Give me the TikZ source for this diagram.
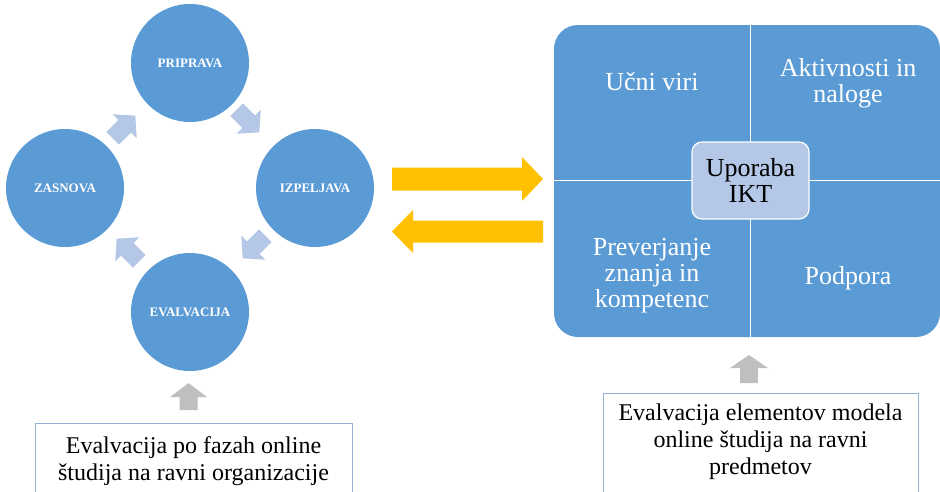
\documentclass[tikz,border=0pt]{standalone}
\usepackage{fontspec}
\setmainfont{Liberation Serif}
\usetikzlibrary{calc}

\definecolor{phaseblue}{HTML}{5B9BD5}
\definecolor{paleblue}{HTML}{B4C7E7}
\definecolor{amber}{HTML}{FFC000}
\definecolor{softgray}{HTML}{BFBFBF}
\definecolor{frameblue}{HTML}{95B3D7}

% Block arrow: #1 fill style, #2 centre, #3 direction angle,
% #4 total length, #5 shaft half-width, #6 head half-width, #7 head length
\newcommand\drawblockarrow[7]{%
  \begin{scope}[shift={#2},rotate=#3]
    \fill[#1] ({-(#4)/2},{-(#5)}) -- ({(#4)/2-(#7)},{-(#5)})
      -- ({(#4)/2-(#7)},{-(#6)}) -- ({(#4)/2},0)
      -- ({(#4)/2-(#7)},{#6}) -- ({(#4)/2-(#7)},{#5})
      -- ({-(#4)/2},{#5}) -- cycle;
  \end{scope}}

\begin{document}
\begin{tikzpicture}[x=1pt,y=-1pt,
  phase/.style={circle, fill=phaseblue, minimum size=118pt, inner sep=0pt,
    text=white, font=\fontsize{13}{15}\selectfont\bfseries},
  quad/.style={text=white, align=center, font=\fontsize{26}{26}\selectfont},
  hub/.style={fill=paleblue, draw=white, line width=1.2pt, rounded corners=10pt,
    minimum width=117pt, minimum height=77pt, inner sep=0pt, align=center,
    font=\fontsize{26}{26}\selectfont},
  notebox/.style={draw=frameblue, line width=0.8pt, fill=white, inner sep=0pt,
    anchor=north west},
  notetext/.style={align=center, font=\fontsize{24}{27}\selectfont, inner sep=0pt},
  divider/.style={white, line width=1.2pt},
]
\useasboundingbox (0,0) rectangle (940,491);

% ---- cycle of phases ----
\node[phase] (pri) at (190,63)  {PRIPRAVA};
\node[phase] (izp) at (315,188) {IZPELJAVA};
\node[phase] (eva) at (190,312) {EVALVACIJA};
\node[phase] (zas) at (65,188)  {ZASNOVA};

\coordinate (c1) at (248,121);
\coordinate (c2) at (254,247);
\coordinate (c3) at (128,250);
\coordinate (c4) at (124,127);
\drawblockarrow{paleblue}{(c1)}{-45}{32}{9}{17}{15}
\drawblockarrow{paleblue}{(c2)}{-135}{32}{9}{17}{15}
\drawblockarrow{paleblue}{(c3)}{135}{32}{9}{17}{15}
\drawblockarrow{paleblue}{(c4)}{45}{32}{9}{17}{15}

% ---- exchange arrows ----
\coordinate (yr) at (467.5,179);
\coordinate (yl) at (467.5,231.5);
\drawblockarrow{amber}{(yr)}{0}{151}{11.5}{22}{21}
\drawblockarrow{amber}{(yl)}{180}{151}{11}{21.5}{21}

% ---- model elements panel ----
\node[fill=phaseblue, rounded corners=24pt, minimum width=386pt,
  minimum height=312pt, inner sep=0pt] (panel) at (747,181) {};
\coordinate (mid) at (750.5,180.5);
\draw[divider] (panel.north -| mid) -- (panel.south -| mid);
\draw[divider] (panel.west |- mid) -- (panel.east |- mid);

\node[quad] (q1) at (652,82)  {Učni viri};
\node[quad] (q2) at (848,83)  {Aktivnosti in\\naloge};
\node[quad] (q3) at (652,276) {Preverjanje\\znanja in\\kompetenc};
\node[quad] (q4) at (848,278) {Podpora};
\node[hub] (hub) at (mid) {Uporaba\\IKT};

% ---- evaluation notes ----
\node[notebox, minimum width=317pt, minimum height=80pt] (nleft) at (35,423) {};
\node[notetext] (tleft) at (193.5,461.5)
  {Evalvacija po fazah online\\študija na ravni organizacije};
\node[notebox, minimum width=315pt, minimum height=110pt] (nright) at (603,393) {};
\node[notetext] (tright) at (760.5,442)
  {Evalvacija elementov modela\\online študija na ravni\\predmetov};

\coordinate (gl) at (188.5,396.5);
\coordinate (gr) at (749,369);
\drawblockarrow{softgray}{(gl)}{90}{27}{9}{18.5}{14}
\drawblockarrow{softgray}{(gr)}{90}{28}{9}{19}{13}
\end{tikzpicture}
\end{document}
